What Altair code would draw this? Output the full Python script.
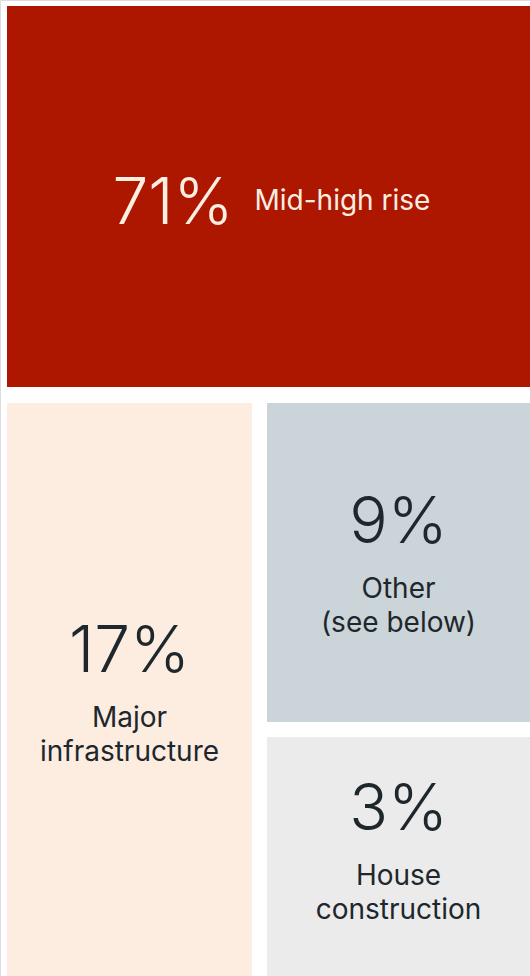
import altair as alt
import pandas as pd

# ---- data ----
categories = ["Mid-high rise", "Major infrastructure", "Other", "House construction"]
shares = [71, 17, 9, 3]
label_lines = [["Mid-high rise"], ["Major", "infrastructure"], ["Other", "(see below)"], ["House", "construction"]]

# ---- styles ----
fills = ["#AD1700", "#FDEDE1", "#CBD4D8", "#EBEBEB"]
text_colors = ["#FDEEE2", "#1E272B", "#1E272B", "#1E272B"]

# ---- layout (canvas pixels) ----
W, H = 530, 976
left, top = 7, 6
col_split = (252, 267)      # end of left column, start of right column
row_split = (387, 403)      # end of top band, start of lower band
right_split = (722, 737)    # end of 'Other', start of 'House construction'
group_shift = [0, 2, 0, -7]  # vertical nudge of each text group

boxes = [
    (left, W, top, row_split[0]),
    (left, col_split[0], row_split[1], H),
    (col_split[1], W, row_split[1], right_split[0]),
    (col_split[1], W, right_split[1], H),
]

rects = []
pcts = []
labels = []
for i, (cat, s, lines, (x0, x1, y0, y1)) in enumerate(zip(categories, shares, label_lines, boxes)):
    cx, cy = (x0 + x1) / 2, (y0 + y1) / 2
    d = group_shift[i]
    rects.append(dict(cat=cat, x0=x0, x1=x1, y0=y0, y1=y1, fill=fills[i]))
    if i == 0:
        pcts.append(dict(cat=cat, x=cx - 35, y=cy + 8, t=f"{s}%", c=text_colors[i], a="right"))
        labels.append(dict(cat=cat, x=cx - 14, y=cy + 5, t="\n".join(lines), c=text_colors[i], a="left"))
    else:
        pcts.append(dict(cat=cat, x=cx, y=cy - 39 + d, t=f"{s}%", c=text_colors[i], a="center"))
        labels.append(dict(cat=cat, x=cx, y=cy + 27 + d, t="\n".join(lines), c=text_colors[i], a="center"))

rect_df = pd.DataFrame(rects)
pct_df = pd.DataFrame(pcts)
lab_df = pd.DataFrame(labels)

xs = alt.Scale(domain=[0, W], range=[0, W])
ys = alt.Scale(domain=[0, H], range=[0, H])

rect_layer = alt.Chart(rect_df).mark_rect().encode(
    x=alt.X("x0:Q", scale=xs, axis=None),
    x2="x1:Q",
    y=alt.Y("y0:Q", scale=ys, axis=None),
    y2="y1:Q",
    color=alt.Color("fill:N", scale=None, legend=None),
)

def text_layer(df, align, size, weight):
    return alt.Chart(df[df.a == align]).mark_text(
        align=align, baseline="middle", font="Inter", fontSize=size, fontWeight=weight,
        lineBreak="\n", lineHeight=34,
    ).encode(
        x=alt.X("x:Q", scale=xs, axis=None),
        y=alt.Y("y:Q", scale=ys, axis=None),
        text="t:N",
        color=alt.Color("c:N", scale=None, legend=None),
    )

layers = [rect_layer]
for al in ["right", "center"]:
    layers.append(text_layer(pct_df, al, 64, 300))
for al in ["left", "center"]:
    layers.append(text_layer(lab_df, al, 28, 400))

chart = alt.layer(*layers).properties(
    width=W, height=H, autosize=alt.AutoSizeParams(type="none"), padding=0,
).configure_view(stroke=None).configure(background="white")

chart.save("out.html", embed_options={"renderer": "svg", "actions": False})
